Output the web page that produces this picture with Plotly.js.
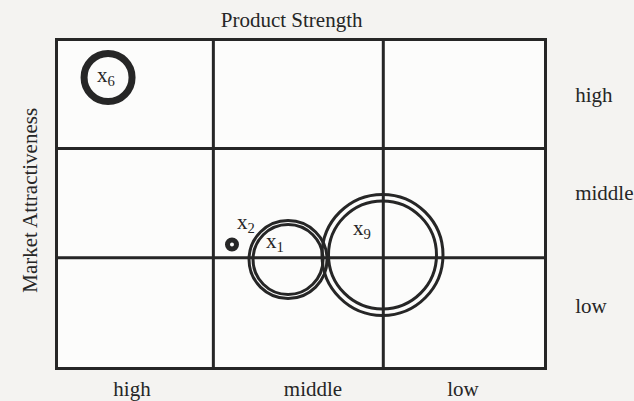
<!DOCTYPE html>
<html>
<head>
<meta charset="utf-8">
<script src="https://cdn.plot.ly/plotly-3.0.1.min.js"></script>
<style>
  html, body { margin: 0; padding: 0; background: #f4f3f1; }
  #chart { width: 634px; height: 401px; }
</style>
</head>
<body>
<div id="chart"></div>
<script>
// ---- data ----
const products = ['x<sub>6</sub>', 'x<sub>2</sub>', 'x<sub>1</sub>', 'x<sub>9</sub>'];
const productStrength = [0.309, 1.074, 1.420, 2.003];      // column scale: 0 (high) .. 3 (low)
const marketAttractiveness = [2.664, 1.127, 0.989, 1.031]; // row scale: 0 (low) .. 3 (high)
const outerRing = [48, 9, 78, 121];      // bubble size (outer ring)
const innerRing = [null, null, 70, 108]; // second ring (inner)
const thickRing = [true, true, false, false];

const xTickLabels = ['high', 'middle', 'low'];
const xTickVals = [0.457, 1.574, 2.50];
const yTickLabels = ['low', 'middle', 'high'];
const yTickVals = [0.565, 1.60, 2.51];
const xDividers = [0.959, 2.008];
const yDividers = [1.005, 2.01];

// ---- styling ----
const ink = '#262626';
const serif = 'Liberation Serif, Times New Roman, serif';
const fs = 21;

const thickIdx = products.map((p, i) => i).filter(i => thickRing[i]);
const thinIdx = products.map((p, i) => i).filter(i => !thickRing[i]);
const pick = (arr, idx) => idx.map(i => arr[i]);

const traces = [
  { // thick single rings (x6, x2)
    type: 'scatter', mode: 'markers',
    x: pick(productStrength, thickIdx), y: pick(marketAttractiveness, thickIdx),
    marker: { symbol: 'circle-open', size: pick(outerRing, thickIdx), color: ink, opacity: 1,
              line: { width: [7, 5], color: ink } },
    hoverinfo: 'skip', showlegend: false, cliponaxis: false
  },
  { // outer rings (x1, x9)
    type: 'scatter', mode: 'markers',
    x: pick(productStrength, thinIdx), y: pick(marketAttractiveness, thinIdx),
    marker: { symbol: 'circle-open', size: pick(outerRing, thinIdx), color: ink, opacity: 1,
              line: { width: 3, color: ink } },
    hoverinfo: 'skip', showlegend: false, cliponaxis: false
  },
  { // inner rings (x1, x9)
    type: 'scatter', mode: 'markers',
    x: pick(productStrength, thinIdx), y: pick(marketAttractiveness, thinIdx),
    marker: { symbol: 'circle-open', size: pick(innerRing, thinIdx), color: ink, opacity: 1,
              line: { width: 3, color: ink } },
    hoverinfo: 'skip', showlegend: false, cliponaxis: false
  }
];

// label offsets relative to bubble centre (px)
const labelShift = [[-2, 2], [14, 22], [-13, 18], [-20, 26]];

const annotations = products.map((p, i) => ({
  x: productStrength[i], y: marketAttractiveness[i], xref: 'x', yref: 'y',
  text: p, showarrow: false, xshift: labelShift[i][0], yshift: labelShift[i][1],
  font: { family: serif, size: fs, color: ink }
}));
annotations.push({
  x: -0.0576, y: 0.51, xref: 'paper', yref: 'paper',
  text: 'Market Attractiveness', textangle: -90, showarrow: false,
  xanchor: 'center', yanchor: 'middle',
  font: { family: serif, size: fs, color: ink }
});

const shapes = [];
xDividers.forEach(v => shapes.push({
  type: 'line', xref: 'x', yref: 'y', x0: v, x1: v, y0: -0.03, y1: 3,
  line: { color: ink, width: 3 }
}));
yDividers.forEach(v => shapes.push({
  type: 'line', xref: 'x', yref: 'y', x0: 0, x1: 3.03, y0: v, y1: v,
  line: { color: ink, width: 3 }
}));

const layout = {
  width: 634, height: 401,
  margin: { l: 58, r: 90, t: 41, b: 34 },
  paper_bgcolor: '#f4f3f1',
  plot_bgcolor: '#fcfcfb',
  font: { family: serif, size: fs, color: ink },
  title: {
    text: 'Product Strength', x: 0.46, xanchor: 'center',
    y: 0.952, yanchor: 'middle', yref: 'container',
    font: { family: serif, size: fs, color: ink }
  },
  xaxis: {
    range: [0, 3], showgrid: false, zeroline: false,
    showline: true, mirror: true, linewidth: 3, linecolor: ink,
    tickmode: 'array', tickvals: xTickVals, ticktext: xTickLabels,
    ticks: '', ticklabelstandoff: 1,
    tickfont: { family: serif, size: fs, color: ink }, fixedrange: true
  },
  yaxis: {
    range: [0, 3], showgrid: false, zeroline: false, side: 'right',
    showline: true, mirror: true, linewidth: 3, linecolor: ink,
    tickmode: 'array', tickvals: yTickVals, ticktext: yTickLabels,
    ticks: '', ticklabelstandoff: 24,
    tickfont: { family: serif, size: fs, color: ink }, fixedrange: true
  },
  shapes: shapes,
  annotations: annotations,
  showlegend: false
};

Plotly.newPlot('chart', traces, layout, { staticPlot: true, displayModeBar: false });
</script>
</body>
</html>
